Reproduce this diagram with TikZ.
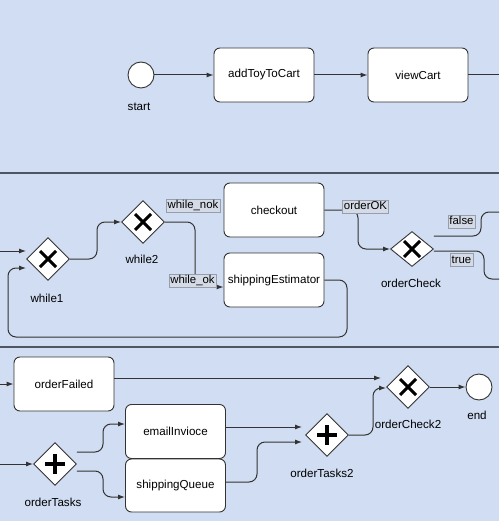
\documentclass[tikz,border=0pt]{standalone}
\usepackage{fontspec}
\setmainfont{Liberation Sans}
\usetikzlibrary{shapes.geometric, arrows.meta, positioning}
\definecolor{laneblue}{RGB}{208,221,242}
\definecolor{linegrey}{RGB}{51,51,51}
\definecolor{lanegrey}{RGB}{78,86,98}
\definecolor{tagfill}{RGB}{212,219,230}
\definecolor{taggrey}{RGB}{150,158,170}
\tikzset{
	arrow/.style={-{Latex[length=7pt,width=5pt]}},
	>=latex,
	flow/.style={draw=linegrey, line width=1pt, rounded corners=8pt},
	lane/.style={draw=lanegrey, line width=2pt},
	task/.style={draw=linegrey, fill=white, rounded corners=6pt, minimum width=100pt, minimum height=54pt, line width=0.9pt, font=\fontsize{11.6}{13}\selectfont},
	event/.style={circle, draw=linegrey, fill=white, minimum size=26pt, inner sep=0pt, line width=0.9pt},
	gateway/.style={diamond, draw=linegrey, fill=white, minimum width=43pt, minimum height=43pt, inner sep=0pt, line width=0.9pt},
	xorgate/.style={gateway, path picture={
		\draw[line width=3pt, black] ([shift={(-8pt,-8pt)}]path picture bounding box.center) -- ([shift={(8pt,8pt)}]path picture bounding box.center)
		([shift={(-8pt,8pt)}]path picture bounding box.center) -- ([shift={(8pt,-8pt)}]path picture bounding box.center);}},
	andgate/.style={gateway, path picture={
		\draw[line width=3.5pt, black] ([xshift=-10pt]path picture bounding box.center) -- ([xshift=10pt]path picture bounding box.center)
		([yshift=-10pt]path picture bounding box.center) -- ([yshift=10pt]path picture bounding box.center);}},
	tag/.style={draw=taggrey, fill=tagfill, inner xsep=1.5pt, inner ysep=1pt, text height=8.5pt, text depth=2.5pt, font=\fontsize{11.4}{13}\selectfont},
	caption/.style={inner sep=0pt, font=\fontsize{11.6}{13}\selectfont}
}

\begin{document}
\begin{tikzpicture}[x=1pt, y=-1pt]
	% LANES
	\fill[laneblue] (0,0) rectangle (499,521);
	\useasboundingbox (0,0) rectangle (499,521);
	\draw[lane] (0,173) -- (499,173);
	\draw[lane] (0,347) -- (499,347);
	
	% Lane 1
	\node[event] (start) at (141,75) {};
	\node[caption] (startcap) at (139,107) {start};
	\node[task] (addToyToCart) at (264,75) {addToyToCart};
	\node[task] (viewCart) at (418,75) {viewCart};
	\coordinate (cartOut) at (499,75);
	
	\draw[flow, arrow] (start) -- (addToyToCart);
	\draw[flow, arrow] (addToyToCart) -- (viewCart);
	\draw[flow] (viewCart) -- (cartOut);
	
	% Lane 2
	\coordinate (checkIn) at (0,251);
	\node[xorgate] (while1) at (48,259) {};
	\node[caption] (while1cap) at (47,298) {while1};
	\node[xorgate] (while2) at (143,222) {};
	\node[caption] (while2cap) at (142,259) {while2};
	\node[task] (checkout) at (274,210) {checkout};
	\node[task] (shippingEstimator) at (274,280) {shippingEstimator};
	\node[xorgate, minimum height=35pt] (orderCheck) at (412,249) {};
	\node[caption] (orderCheckcap) at (411,283) {orderCheck};
	\coordinate (falseOut) at (499,212);
	\coordinate (trueOut) at (499,279);
	
	\draw[flow, arrow] (checkIn) -- ([yshift=8pt]while1.west);
	\draw[flow, arrow] (while1.east) -- (97,259) -- (97,222) -- (while2.west);
	\draw[flow, arrow] (while2.east) -- (195,222) -- (195,287) -- ([yshift=-7pt]shippingEstimator.west);
	\draw[flow, arrow] (shippingEstimator.east) -- (347,280) -- (347,337) -- (8,337) -- (8,268) -- ([yshift=-9pt]while1.west);
	\draw[flow, arrow] (checkout.east) -- (358,210) -- (358,249) -- (orderCheck.west);
	\draw[flow] ([yshift=13pt]orderCheck.east) -- (481,236) -- (481,212) -- (falseOut);
	\draw[flow] ([yshift=-2pt]orderCheck.east) -- (484,251) -- (484,279) -- (trueOut);
	
	% edge labels
	\node[tag] (whileNokTag) at (193,205.5) {while\_nok};
	\node[tag] (whileOkTag) at (192.5,280.5) {while\_ok};
	\node[tag] (orderOKTag) at (365.5,206.5) {orderOK};
	\node[tag] (falseTag) at (461.5,221.5) {false};
	\node[tag] (trueTag) at (461.5,260) {true};
	
	% Lane 3
	\coordinate (failIn) at (0,384);
	\coordinate (tasksIn) at (0,464);
	\node[task] (orderFailed) at (64,384) {orderFailed};
	\node[andgate] (orderTasks) at (55,464) {};
	\node[caption] (orderTaskscap) at (53,502) {orderTasks};
	\node[task] (emailInvioce) at (175.5,431.5) {emailInvioce};
	\node[task, minimum height=53pt] (shippingQueue) at (175.5,485.5) {shippingQueue};
	\node[andgate] (orderTasks2) at (327,435) {};
	\node[caption] (orderTasks2cap) at (322,473) {orderTasks2};
	\node[xorgate] (orderCheck2) at (408,387) {};
	\node[caption] (orderCheck2cap) at (408,424) {orderCheck2};
	\node[event] (end) at (479,387) {};
	\node[caption] (endcap) at (477,415) {end};
	
	\draw[flow, arrow] (failIn) -- (orderFailed.west);
	\draw[flow, arrow] (tasksIn) -- (orderTasks.west);
	\draw[flow, arrow] ([yshift=6pt]orderFailed.east) -- ([xshift=-5pt, yshift=9pt]orderCheck2.west);
	\draw[flow, arrow] ([yshift=12pt]orderTasks.east) -- (103,452) -- (103,424) -- ([yshift=7.5pt]emailInvioce.west);
	\draw[flow, arrow] ([yshift=-7pt]orderTasks.east) -- (103,471) -- (103,497) -- ([yshift=-11.5pt]shippingQueue.west);
	\draw[flow, arrow] ([yshift=4.5pt]emailInvioce.east) -- ([xshift=-3pt, yshift=8pt]orderTasks2.west);
	\draw[flow, arrow] ([yshift=3.5pt]shippingQueue.east) -- (257,482) -- (257,442) -- ([xshift=-3pt, yshift=-7pt]orderTasks2.west);
	\draw[flow, arrow] (orderTasks2.east) -- (373,435) -- (373,388) -- ([yshift=-1pt]orderCheck2.west);
	\draw[flow, arrow] (orderCheck2.east) -- (end.west);
\end{tikzpicture}
\end{document}
